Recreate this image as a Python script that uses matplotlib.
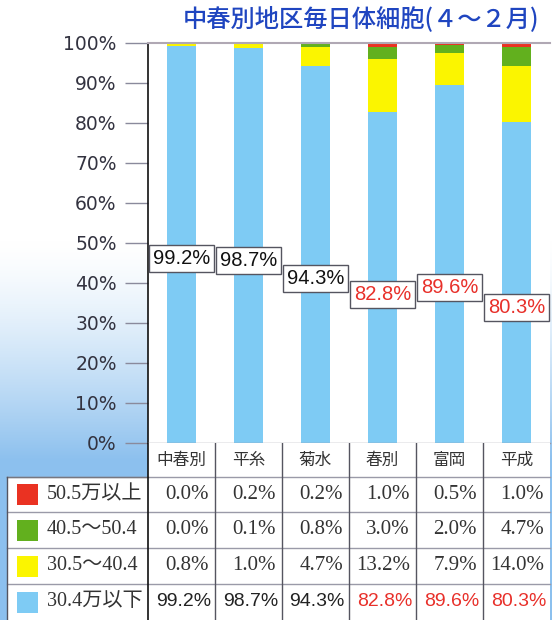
import numpy as np
import matplotlib
matplotlib.use('Agg')
import matplotlib.pyplot as plt
from matplotlib.patches import Rectangle

# data
areas = ['中春別', '平糸', '菊水', '春別', '富岡', '平成']
cats = ['30.4万以下', '30.5～40.4', '40.5～50.4', '50.5万以上']
low = [99.2, 98.7, 94.3, 82.8, 89.6, 80.3]
mid = [0.8, 1.0, 4.7, 13.2, 7.9, 14.0]
high = [0.0, 0.1, 0.8, 3.0, 2.0, 4.7]
top = [0.0, 0.2, 0.2, 1.0, 0.5, 1.0]
series = [low, mid, high, top]
colors = ['#7ecbf4', '#fbf500', '#62b01e', '#ea3222']
title = '中春別地区毎日体細胞(４～２月)'

# where the boxed labels sit on each bar (in %)
label_y = [46.1, 45.6, 41.1, 37.2, 38.9, 33.9]

W, H = 552, 620
fig = plt.figure(figsize=(W / 100, H / 100), dpi=100)

# sky background
bg = fig.add_axes([0, 0, 1, 1], zorder=-10)
bg.axis('off')
yy = np.arange(H)[:, None]
xx = np.arange(W)[None, :]
t = np.clip((yy - 240) / 220.0, 0, 1) ** 1.4 + 0 * xx
sky = np.array([140, 192, 238]) / 255.0
img = (1 - t[..., None]) * np.ones(3) + t[..., None] * sky
bg.imshow(img, extent=[0, W, H, 0], aspect='auto')
bg.set_xlim(0, W)
bg.set_ylim(H, 0)

# chart
L, R, T, B = 148, 550, 43, 443
ax = fig.add_axes([L / W, 1 - B / H, (R - L) / W, (B - T) / H])
ax.set_facecolor('white')
x = np.arange(len(areas))
bottom = np.zeros(len(areas))
for vals, c in zip(series, colors):
    ax.bar(x, vals, width=0.43, bottom=bottom, color=c, linewidth=0)
    bottom += np.array(vals)

sans = ['Liberation Sans']
for i, v in enumerate(low):
    col = '#e8302a' if v < 90 else '#111111'
    ax.text(i, label_y[i], '%.1f%%' % v, ha='center', va='center',
            fontsize=14.5, family=sans, color=col,
            bbox=dict(boxstyle='square,pad=0.2', fc='white', ec='#555560', lw=1))

ax.set_xlim(-0.5, 5.5)
ax.set_ylim(0, 100)
ax.set_xticks([])
ax.set_yticks(range(0, 101, 10))
ax.set_yticklabels(['%d%%' % v for v in range(0, 101, 10)])
ax.tick_params(axis='y', length=16.5, width=1, color='#8a8a9c', pad=6,
               labelsize=13.5, labelcolor='#333340')
ax.spines['right'].set_visible(False)
ax.spines['left'].set_color('#111111')
ax.spines['left'].set_linewidth(1.2)
ax.spines['top'].set_color('#b0a8b4')
ax.spines['top'].set_linewidth(1.5)
ax.spines['bottom'].set_color('#9a9aa8')
ax.spines['bottom'].set_linewidth(1)

fig.text(183 / W, 1 - 19 / H, title, ha='left', va='center', fontsize=17.5,
         color='#1f45c0', family=['Noto Sans CJK JP'], fontweight='medium')

# table under the chart
tab = fig.add_axes([0, 0, 1, (H - B) / H])
tab.axis('off')
tab.set_xlim(0, W)
tab.set_ylim(H, B)
cw = (R - L) / len(areas)
rows = [B, 477, 512, 548, 584, H]
tab.add_patch(Rectangle((7, rows[1]), L - 7, H - rows[1], fc='white', ec='none'))
tab.add_patch(Rectangle((L, B), R - L, H - B, fc='white', ec='none'))
for yv in rows[1:-1]:
    tab.plot([7, R], [yv, yv], color='#9a9aa8', lw=1)
tab.plot([7, L], [rows[1], rows[1]], color='#777780', lw=1)
tab.plot([7, 7], [rows[1], H], color='#555560', lw=1)
tab.plot([L, L], [B, H], color='#111111', lw=1.2)
for i in range(1, len(areas)):
    tab.plot([L + i * cw] * 2, [B, H], color='#555560', lw=1)

for i, a in enumerate(areas):
    tab.text(L + (i + 0.5) * cw, (rows[0] + rows[1]) / 2, a, ha='center', va='center',
             fontsize=12, color='#333333', family=['Noto Sans CJK JP'])

serif = ['Liberation Serif', 'Noto Sans CJK JP']
order = [3, 2, 1, 0]
for r, k in enumerate(order):
    yc = (rows[r + 1] + rows[r + 2]) / 2
    tab.add_patch(Rectangle((17, yc - 10.5), 21, 21, fc=colors[k], ec='none'))
    tab.text(47, yc, cats[k], ha='left', va='center', fontsize=14.5,
             color='#333333', family=serif)
    for i, v in enumerate(series[k]):
        if k == 0:
            tab.text(L + (i + 1) * cw - 4, yc, '%.1f%%' % v, ha='right', va='center',
                     fontsize=14, family=sans,
                     color='#e8302a' if v < 90 else '#222222')
        else:
            tab.text(L + (i + 1) * cw - 6, yc, '%.1f%%' % v, ha='right', va='center',
                     fontsize=15, family=serif, color='#333333')

fig.savefig('out.png', dpi=100)
